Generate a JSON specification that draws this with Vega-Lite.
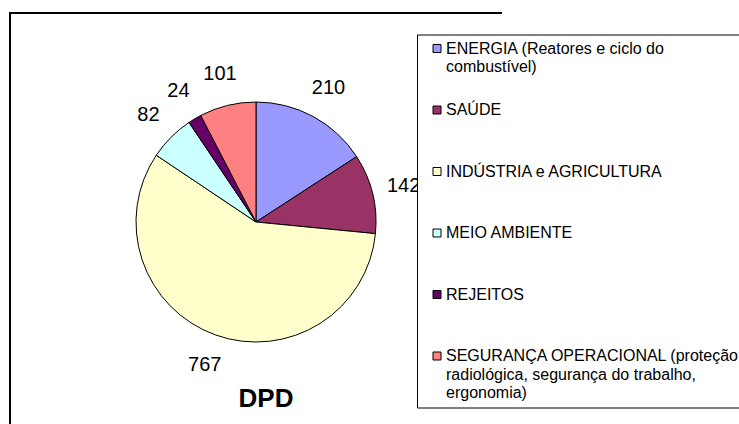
{
  "$schema": "https://vega.github.io/schema/vega-lite/v6.json",
  "autosize": {"type": "none"},
  "width": 492,
  "height": 418,
  "padding": {"left": 10, "top": 13, "right": 237, "bottom": 0},
  "background": "white",
  "view": {"stroke": "black", "strokeWidth": 2, "strokeDash": [492, 910, 418]},
  "title": {
    "text": "DPD",
    "orient": "bottom",
    "offset": -45,
    "dx": 10,
    "font": "Liberation Sans",
    "fontSize": 26,
    "fontWeight": "bold",
    "color": "black"
  },
  "data": {
    "values": [
      {"categoria": "ENERGIA (Reatores e ciclo do combustível)", "valor": 210, "ordem": 1},
      {"categoria": "SAÚDE", "valor": 142, "ordem": 2},
      {"categoria": "INDÚSTRIA e AGRICULTURA", "valor": 767, "ordem": 3},
      {"categoria": "MEIO AMBIENTE", "valor": 82, "ordem": 4},
      {"categoria": "REJEITOS", "valor": 24, "ordem": 5},
      {"categoria": "SEGURANÇA OPERACIONAL (proteção radiológica, segurança do trabalho, ergonomia)", "valor": 101, "ordem": 6}
    ]
  },
  "encoding": {
    "theta": {"field": "valor", "type": "quantitative", "stack": true},
    "order": {"field": "ordem", "type": "quantitative"}
  },
  "layer": [
    {
      "mark": {"type": "arc", "radius": 120, "stroke": "black", "strokeWidth": 1},
      "encoding": {
        "color": {
          "field": "categoria",
          "type": "nominal",
          "sort": null,
          "scale": {
            "domain": [
              "ENERGIA (Reatores e ciclo do combustível)",
              "SAÚDE",
              "INDÚSTRIA e AGRICULTURA",
              "MEIO AMBIENTE",
              "REJEITOS",
              "SEGURANÇA OPERACIONAL (proteção radiológica, segurança do trabalho, ergonomia)"
            ],
            "range": ["#9999FF", "#993366", "#FFFFCC", "#CCFFFF", "#660066", "#FF8080"]
          },
          "legend": {
            "title": null,
            "orient": "none",
            "legendX": 407,
            "legendY": 21.5,
            "padding": 6,
            "strokeColor": "black",
            "fillColor": "white",
            "symbolType": "square",
            "symbolSize": 64,
            "symbolStrokeColor": "black",
            "symbolStrokeWidth": 1,
            "symbolOffset": 6,
            "labelOffset": 1,
            "labelFont": "Liberation Sans",
            "labelFontSize": 16,
            "labelColor": "black",
            "labelLimit": 400,
            "labelBaseline": "middle",
            "rowPadding": 8.5,
            "gridAlign": "all",
            "labelExpr": "datum.label == 'ENERGIA (Reatores e ciclo do combustível)' ? ['ENERGIA (Reatores e ciclo do', 'combustível)'] : datum.label == 'SEGURANÇA OPERACIONAL (proteção radiológica, segurança do trabalho, ergonomia)' ? ['SEGURANÇA OPERACIONAL (proteção', 'radiológica, segurança do trabalho,', 'ergonomia)'] : datum.label",
            "encode": {
              "labels": {"update": {"lineHeight": {"value": 18.5}}},
              "symbols": {"update": {"stroke": {"value": "black"}, "strokeWidth": {"value": 1}}}
            }
          }
        },
        "detail": {"field": "categoria"}
      }
    },
    {
      "mark": {"type": "text", "radius": 152, "font": "Liberation Sans", "fontSize": 20, "color": "black"},
      "encoding": {
        "text": {"field": "valor", "type": "quantitative"},
        "detail": {"field": "categoria"}
      }
    }
  ]
}
